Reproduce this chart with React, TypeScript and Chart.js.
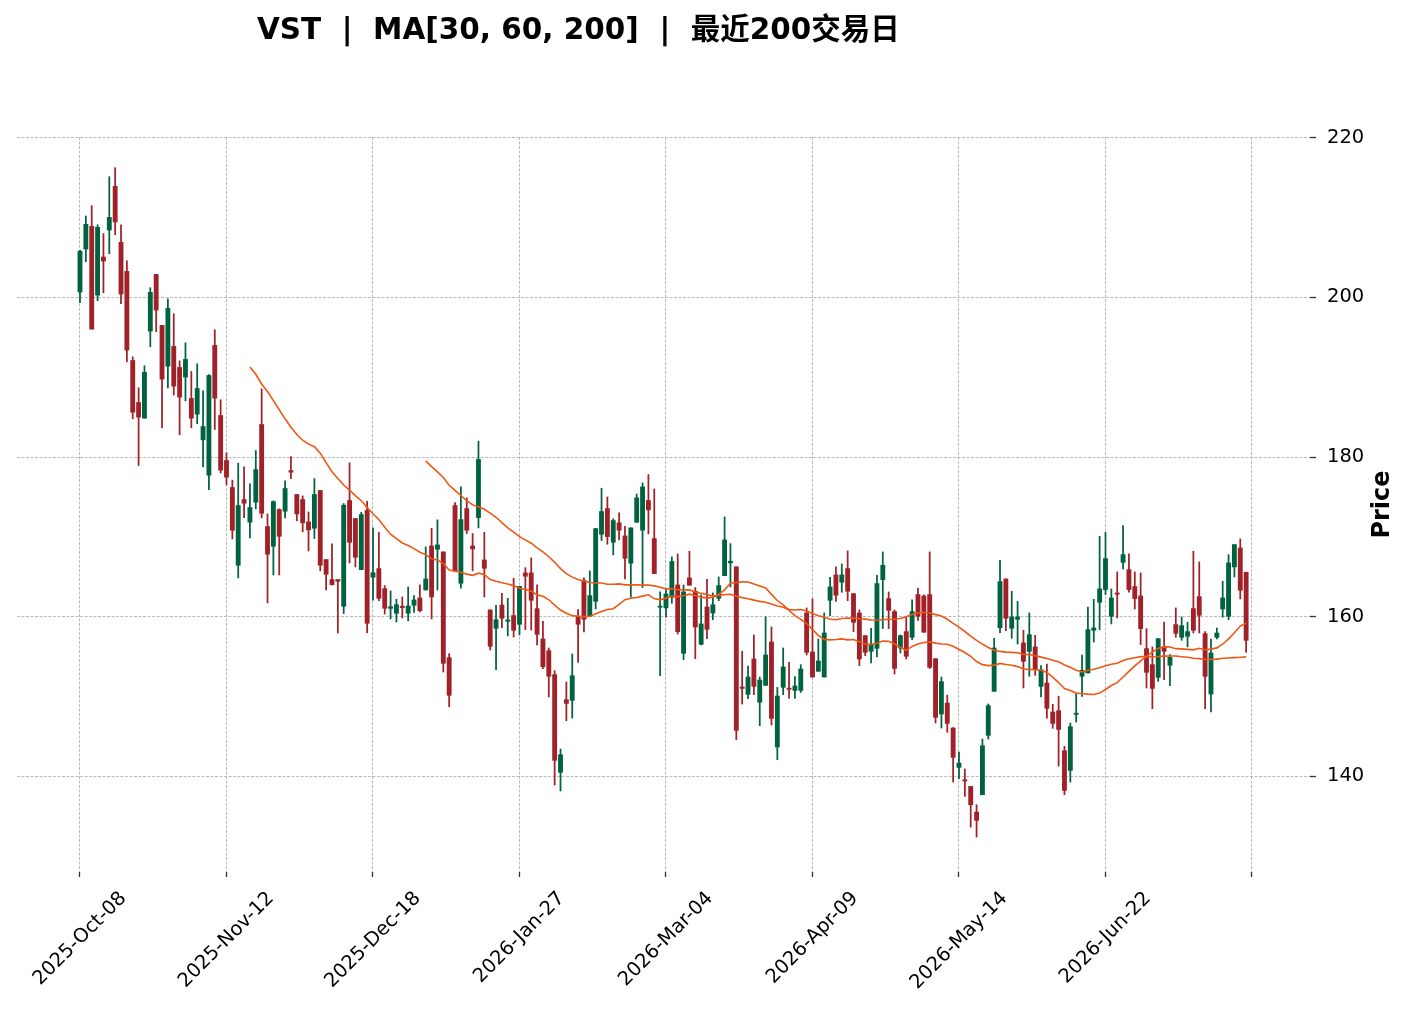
import { useEffect, useRef } from 'react';
import { Chart, registerables } from 'chart.js';

// Register all Chart.js components
Chart.register(...registerables);

const title = 'VST  |  MA[30, 60, 200]  |  最近200交易日';
const maPeriods = [30, 60, 200];
const tickPositions = [0, 25, 50, 75, 100, 125, 150, 175, 200];
const tickLabels = ['2025-Oct-08', '2025-Nov-12', '2025-Dec-18', '2026-Jan-27', '2026-Mar-04', '2026-Apr-09', '2026-May-14', '2026-Jun-22', ''];
const priceTicks = [140, 160, 180, 200, 220];

const opens = [
  200.67, 206.06, 208.9, 200.29, 205.06, 208.44, 213.92, 206.9, 203.26, 192.1,
  186.83, 184.87, 195.78, 202.88, 196.49, 191.39, 193.86, 191.22, 190.01, 187.34,
  185.37, 182.15, 177.72, 193.98, 185.2, 179.56, 176.18, 166.44, 174.67, 171.83,
  174.34, 184.07, 171.29, 168.82, 173.42, 173.21, 178.31, 175.3, 174.67, 171.87,
  171.08, 175.8, 167.15, 164.64, 164.64, 161.3, 174.55, 172.29, 165.89, 173.29,
  164.93, 166.02, 163.51, 161.04, 160.42, 161.3, 160.42, 161.42, 162.34, 163.34,
  168.86, 168.44, 168.11, 154.86, 173.92, 164.18, 173.54, 168.86, 172.41, 167.1,
  160.84, 158.54, 161.46, 159.41, 160.13, 159.04, 165.48, 165.48, 161.0, 157.2,
  155.74, 152.73, 140.48, 149.59, 149.51, 160.04, 164.56, 160.04, 161.92, 170.32,
  173.54, 169.32, 171.75, 170.11, 166.69, 171.83, 170.83, 174.55, 169.78, 161.17,
  161.09, 162.42, 163.97, 155.4, 164.85, 163.18, 156.53, 161.21, 160.46, 162.3,
  165.14, 166.73, 166.23, 151.18, 150.26, 154.69, 149.26, 151.39, 156.82, 143.66,
  151.14, 151.01, 150.76, 150.76, 160.46, 155.57, 153.15, 152.43, 162.05, 165.22,
  164.31, 166.02, 162.88, 160.46, 157.62, 155.65, 156.03, 164.64, 162.26, 160.63,
  156.07, 158.12, 157.41, 162.76, 162.59, 162.76, 154.73, 147.8, 149.17, 146.04,
  141.11, 139.56, 138.73, 135.51, 137.68, 145.12, 150.64, 158.62, 164.72, 158.54,
  159.67, 156.7, 155.65, 156.2, 151.26, 151.68, 148.05, 148.21, 143.2, 140.73,
  147.75, 152.52, 152.94, 158.29, 161.8, 163.39, 160.04, 162.97, 166.81, 165.89,
  163.76, 162.59, 155.99, 153.98, 152.39, 156.15, 153.9, 159.0, 157.41, 157.53,
  161.0, 162.51, 157.87, 150.3, 157.41, 160.96, 160.04, 166.23, 168.61, 165.56,
];
const highs = [
  205.9, 210.2, 211.5, 209.1, 208.0, 215.13, 216.26, 209.11, 204.6, 192.56,
  188.67, 191.43, 201.21, 202.88, 196.49, 199.83, 197.95, 192.06, 194.32, 190.72,
  191.68, 188.3, 190.34, 195.95, 187.17, 180.52, 177.1, 179.23, 178.77, 176.64,
  180.81, 188.55, 172.87, 174.5, 173.5, 177.01, 180.06, 175.3, 175.13, 173.12,
  177.3, 175.8, 167.15, 169.11, 164.64, 174.17, 179.27, 172.29, 173.08, 174.46,
  171.12, 170.57, 163.89, 163.22, 162.17, 162.47, 163.72, 162.63, 163.97, 168.74,
  171.08, 172.12, 168.11, 155.36, 174.29, 176.26, 174.88, 170.41, 181.99, 170.57,
  160.84, 161.42, 162.93, 162.3, 164.81, 163.8, 166.14, 167.36, 163.97, 159.41,
  156.07, 153.23, 143.41, 151.81, 155.32, 160.88, 164.85, 165.73, 171.03, 176.09,
  175.0, 172.25, 173.0, 171.33, 171.12, 175.38, 176.76, 177.81, 176.0, 163.1,
  163.47, 167.48, 167.86, 163.97, 168.19, 163.64, 162.72, 164.68, 162.97, 164.97,
  172.5, 169.15, 166.23, 155.65, 153.81, 157.7, 152.43, 159.96, 158.7, 151.14,
  156.07, 154.27, 152.48, 153.98, 161.09, 162.22, 157.2, 160.46, 164.93, 166.23,
  166.6, 168.23, 162.88, 160.84, 157.62, 158.54, 165.18, 168.11, 163.09, 160.84,
  157.7, 159.92, 162.09, 163.59, 162.72, 168.11, 154.73, 152.43, 150.16, 146.1,
  143.03, 140.9, 138.73, 136.43, 144.66, 149.05, 157.28, 167.06, 164.72, 163.18,
  161.92, 158.29, 160.46, 157.66, 153.86, 154.06, 149.01, 150.01, 143.74, 146.67,
  150.3, 155.19, 161.21, 162.17, 170.07, 170.57, 163.47, 165.6, 171.41, 167.86,
  165.6, 165.48, 158.5, 156.2, 157.24, 159.33, 155.23, 161.09, 159.96, 159.29,
  168.19, 166.85, 158.12, 157.2, 158.58, 164.43, 167.77, 169.03, 169.74, 165.56,
];
const lows = [
  199.33, 204.47, 196.03, 199.58, 200.58, 205.48, 207.86, 199.2, 191.93, 184.79,
  178.93, 184.87, 193.81, 195.7, 183.66, 188.67, 187.75, 182.78, 187.04, 183.66,
  184.16, 178.77, 175.9, 183.45, 178.0, 176.5, 169.74, 164.85, 172.41, 169.86,
  173.5, 172.37, 161.71, 165.22, 165.22, 172.37, 177.3, 172.0, 170.62, 168.23,
  169.78, 165.73, 163.34, 163.93, 157.95, 160.38, 166.73, 166.23, 165.89, 157.99,
  162.05, 162.0, 160.33, 159.71, 159.33, 159.83, 159.46, 160.54, 160.59, 163.34,
  159.71, 163.34, 153.06, 148.71, 165.73, 163.55, 170.41, 165.73, 171.12, 162.47,
  155.82, 153.35, 158.62, 157.58, 157.45, 157.7, 158.37, 158.33, 156.45, 153.48,
  149.93, 138.89, 138.14, 146.96, 147.29, 154.27, 158.08, 160.04, 160.96, 169.53,
  169.07, 167.73, 169.61, 164.72, 162.42, 171.83, 163.64, 170.37, 165.39, 152.6,
  159.92, 161.67, 157.83, 154.61, 163.93, 154.73, 156.45, 157.24, 159.62, 162.0,
  165.14, 163.72, 144.58, 149.05, 149.72, 150.22, 146.33, 151.39, 146.42, 142.07,
  150.22, 149.76, 149.76, 150.5, 155.19, 152.43, 153.15, 152.43, 160.13, 161.92,
  163.05, 162.0, 158.12, 153.86, 155.11, 154.19, 154.94, 158.5, 158.5, 152.81,
  155.44, 154.69, 157.12, 159.54, 158.04, 153.5, 146.67, 146.04, 145.5, 139.27,
  139.69, 137.47, 133.63, 132.38, 137.68, 144.66, 150.64, 157.99, 158.24, 157.28,
  156.57, 151.06, 152.52, 152.64, 149.93, 147.29, 146.0, 141.27, 137.68, 139.27,
  146.79, 150.01, 152.94, 156.82, 158.37, 162.76, 159.08, 159.83, 165.98, 163.05,
  160.96, 156.49, 151.06, 148.46, 151.89, 152.1, 151.35, 157.41, 157.03, 156.2,
  157.95, 157.95, 148.46, 148.05, 157.2, 159.92, 159.62, 164.97, 162.22, 155.53,
];
const closes = [
  205.77, 209.15, 196.03, 208.78, 204.56, 210.03, 209.45, 200.42, 193.4, 185.62,
  185.0, 190.6, 200.63, 198.41, 189.76, 198.62, 188.88, 187.5, 192.23, 184.87,
  188.59, 183.82, 190.22, 187.38, 178.35, 177.47, 170.83, 173.92, 174.21, 173.67,
  178.43, 172.96, 167.82, 174.42, 170.07, 176.05, 178.1, 172.87, 171.75, 170.87,
  175.3, 166.44, 165.31, 164.01, 164.43, 173.96, 169.32, 167.44, 172.79, 159.16,
  165.5, 162.3, 161.04, 161.25, 161.5, 161.13, 161.34, 162.09, 160.75, 164.72,
  162.47, 168.99, 154.15, 150.14, 165.73, 172.16, 170.83, 168.48, 179.69, 166.06,
  156.28, 159.62, 159.79, 159.58, 158.29, 163.8, 165.06, 162.05, 157.78, 153.73,
  152.52, 141.99, 142.7, 149.13, 152.6, 159.04, 159.67, 162.63, 171.03, 173.17,
  170.03, 172.04, 170.83, 167.31, 171.12, 174.88, 176.26, 173.38, 165.39, 161.3,
  162.84, 166.9, 158.12, 163.09, 163.93, 158.7, 159.08, 158.41, 161.5, 163.89,
  169.61, 166.94, 145.75, 151.01, 152.43, 151.26, 152.06, 155.19, 147.25, 150.05,
  153.69, 150.89, 151.31, 153.44, 155.53, 152.43, 154.44, 157.95, 163.72, 162.68,
  165.22, 163.18, 159.29, 154.69, 155.53, 156.57, 164.14, 166.44, 160.79, 153.52,
  157.62, 155.03, 160.63, 160.04, 158.04, 153.65, 147.38, 151.85, 146.62, 142.36,
  141.65, 139.4, 136.43, 134.46, 143.82, 148.84, 156.07, 164.39, 159.79, 159.96,
  159.96, 154.4, 157.74, 153.35, 153.35, 148.51, 146.62, 145.87, 138.22, 146.21,
  147.88, 153.27, 158.37, 158.58, 163.47, 167.27, 162.34, 162.8, 167.77, 163.39,
  162.26, 158.5, 153.02, 151.01, 157.24, 155.65, 154.9, 157.91, 158.87, 158.12,
  158.29, 160.17, 152.52, 155.44, 157.95, 162.34, 166.73, 169.03, 163.3, 157.03,
];

const upColor = '#006340';
const downColor = '#a02128';
const maColor = '#ef5714';

function movingAverage(values: number[], n: number) {
  const out: { x: number; y: number }[] = [];
  for (let i = n - 1; i < values.length; i++) {
    let sum = 0;
    for (let j = i - n + 1; j <= i; j++) sum += values[j];
    out.push({ x: i, y: sum / n });
  }
  return out;
}

// draws the rotated date labels, the y-axis title and the figure title
const textPlugin = {
  id: 'mpfText',
  afterDraw(chart: any) {
    const ctx = chart.ctx;
    const area = chart.chartArea;
    const xs = chart.scales.x;
    ctx.save();
    ctx.fillStyle = '#000';

    ctx.font = '19.5px "DejaVu Sans"';
    tickPositions.forEach((pos, i) => {
      const label = tickLabels[i];
      if (!label) return;
      const x = xs.getPixelForValue(pos);
      const w = ctx.measureText(label).width;
      const cy = area.bottom + 16 + ((w + 21) * Math.SQRT1_2) / 2;
      ctx.save();
      ctx.translate(x, cy);
      ctx.rotate(-Math.PI / 4);
      ctx.textAlign = 'center';
      ctx.textBaseline = 'middle';
      ctx.fillText(label, 0, 0);
      ctx.restore();
    });

    ctx.font = 'bold 24px "DejaVu Sans"';
    ctx.save();
    ctx.translate(chart.width - 29, (area.top + area.bottom) / 2);
    ctx.rotate(-Math.PI / 2);
    ctx.textAlign = 'center';
    ctx.textBaseline = 'middle';
    ctx.fillText('Price', 0, 0);
    ctx.restore();

    ctx.font = 'bold 29.5px "DejaVu Sans", "Noto Sans CJK SC", sans-serif';
    ctx.textAlign = 'left';
    ctx.textBaseline = 'alphabetic';
    ctx.fillText(title, 257, 39);
    ctx.restore();
  },
};

export default function App() {
  const chartRef = useRef<HTMLCanvasElement>(null);
  const chartInstance = useRef<Chart | null>(null);

  useEffect(() => {
    if (!chartRef.current) return;
    const ctx = chartRef.current.getContext('2d');
    if (!ctx) return;
    if (chartInstance.current) chartInstance.current.destroy();

    const candleColors = closes.map((c, i) => (c >= opens[i] ? upColor : downColor));
    const bodies = opens.map((o, i) => ({ x: i, y: [Math.min(o, closes[i]), Math.max(o, closes[i])] }));
    const wicks = lows.map((l, i) => ({ x: i, y: [l, highs[i]] }));

    const maSets = maPeriods.map((p) => ({
      type: 'line' as const,
      label: `MA${p}`,
      data: movingAverage(closes, p),
      borderColor: maColor,
      borderWidth: 1.6,
      pointRadius: 0,
      tension: 0,
      fill: false,
      order: 0,
    }));

    const gridColor = '#b3b3b3';

    chartInstance.current = new Chart(ctx, {
      type: 'bar',
      data: {
        datasets: [
          {
            label: 'body',
            data: bodies as any,
            backgroundColor: candleColors,
            borderWidth: 0,
            barThickness: 4.2,
            minBarLength: 1.2,
            grouped: false,
            order: 1,
          },
          {
            label: 'wick',
            data: wicks as any,
            backgroundColor: candleColors,
            borderWidth: 0,
            barThickness: 1.1,
            grouped: false,
            order: 2,
          },
          ...(maSets as any[]),
        ],
      },
      options: {
        responsive: false,
        animation: false,
        events: [],
        layout: { padding: { left: 17, top: 137, right: 0, bottom: 0 } },
        plugins: {
          legend: { display: false },
          tooltip: { enabled: false },
          title: { display: false },
        },
        scales: {
          x: {
            type: 'linear',
            min: -10.75,
            max: 209.9,
            offset: false,
            afterBuildTicks: (scale: any) => {
              scale.ticks = tickPositions.map((v) => ({ value: v }));
            },
            afterFit: (scale: any) => {
              scale.height = 139;
            },
            ticks: { display: false },
            grid: {
              color: gridColor,
              lineWidth: 0.9,
              tickLength: 5,
              tickColor: '#333',
              tickWidth: 1.3,
              offset: false,
            },
            border: { display: false, dash: [3, 1.5] },
          },
          y: {
            type: 'linear',
            position: 'right',
            min: 128,
            max: 220.1,
            afterBuildTicks: (scale: any) => {
              scale.ticks = priceTicks.map((v) => ({ value: v }));
            },
            afterFit: (scale: any) => {
              scale.width = 102;
            },
            ticks: {
              color: '#000',
              padding: 11,
              font: { family: '"DejaVu Sans"', size: 19.5 },
              callback: (v: any) => String(v),
            },
            grid: {
              color: gridColor,
              lineWidth: 0.9,
              tickLength: 6,
              tickColor: '#333',
              tickWidth: 1.3,
            },
            border: { display: false, dash: [3, 1.5] },
          },
        },
      },
      plugins: [textPlugin],
    });

    return () => {
      if (chartInstance.current) {
        chartInstance.current.destroy();
        chartInstance.current = null;
      }
    };
  }, []);

  return (
    <div style={{ position: 'fixed', left: 0, top: 0, width: 1412, height: 1011, background: '#fff' }}>
      <canvas ref={chartRef} width={1412} height={1011} />
    </div>
  );
}
